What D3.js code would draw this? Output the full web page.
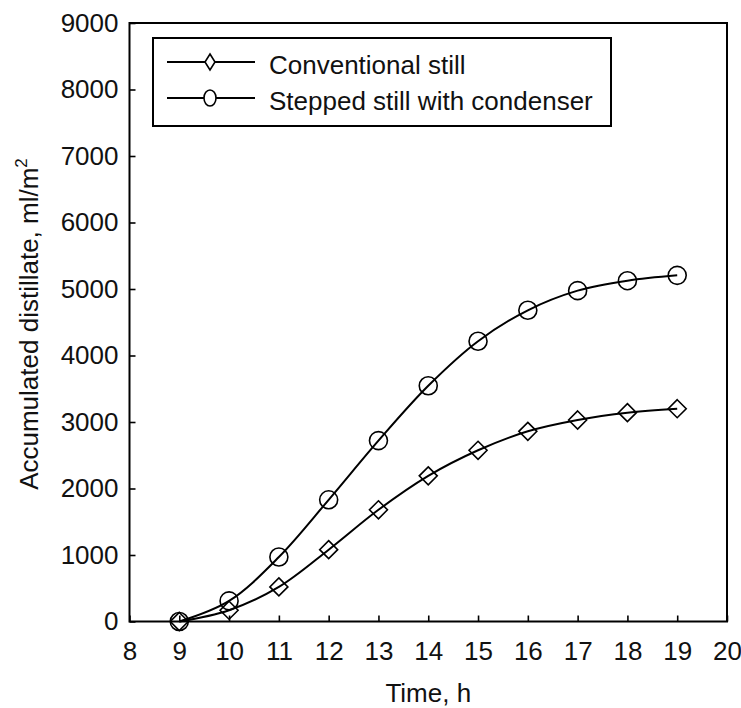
<!DOCTYPE html>
<html>
<head>
<meta charset="utf-8">
<script src="https://cdn.jsdelivr.net/npm/d3@7"></script>
<style>
  html, body { margin: 0; padding: 0; background: #fff; }
  svg { display: block; font-family: "Liberation Sans", Arial, Helvetica, sans-serif; }
</style>
</head>
<body>
<svg id="chart" width="741" height="708"></svg>
<script>
// Hourly readings of accumulated distillate (ml/m²)
const hours = [9, 10, 11, 12, 13, 14, 15, 16, 17, 18, 19];
const conventional = [0, 170, 520, 1080, 1680, 2190, 2575, 2860, 3030, 3140, 3200];
const stepped = [0, 310, 970, 1830, 2720, 3545, 4215, 4680, 4975, 5125, 5205];
const xTicks = [8, 9, 10, 11, 12, 13, 14, 15, 16, 17, 18, 19, 20];
const yTicks = [0, 1000, 2000, 3000, 4000, 5000, 6000, 7000, 8000, 9000];
const seriesNames = ["Conventional still", "Stepped still with condenser"];

const svg = d3.select("#chart");
const plotL = 129.5, plotR = 727, plotT = 23, plotB = 621.5;

const x = d3.scaleLinear().domain([8, 20]).range([plotL, plotR]);
const y = d3.scaleLinear().domain([0, 9000]).range([plotB, plotT]);

// Axes with inward ticks
const xAxis = d3.axisBottom(x).tickValues(xTicks).tickFormat(d3.format("d"))
  .tickSizeInner(-6).tickSizeOuter(0).tickPadding(20);
const yAxis = d3.axisLeft(y).tickValues(yTicks).tickFormat(d3.format("d"))
  .tickSizeInner(-6).tickSizeOuter(0).tickPadding(11);

const gx = svg.append("g").attr("transform", `translate(0,${plotB})`).call(xAxis);
const gy = svg.append("g").attr("transform", `translate(${plotL},0)`).call(yAxis);
[gx, gy].forEach(g => {
  g.select(".domain").remove();
  g.selectAll("line").attr("stroke", "#000").attr("stroke-width", 1.6);
  g.selectAll("text").attr("fill", "#111").style("font-size", "26px")
    .attr("font-family", "'Liberation Sans', Arial, sans-serif");
});

// Plot frame
svg.append("rect")
  .attr("x", plotL).attr("y", plotT)
  .attr("width", plotR - plotL).attr("height", plotB - plotT)
  .attr("fill", "none").attr("stroke", "#000").attr("stroke-width", 2);

// Axis titles
svg.append("text")
  .attr("x", (plotL + plotR) / 2).attr("y", 702)
  .attr("text-anchor", "middle")
  .style("font-size", "26px").attr("fill", "#111")
  .text("Time, h");

const yTitle = svg.append("text")
  .attr("transform", `translate(38,324) rotate(-90)`)
  .attr("text-anchor", "middle")
  .style("font-size", "26px").attr("fill", "#111");
yTitle.append("tspan").text("Accumulated distillate, ml/m");
yTitle.append("tspan").attr("dy", -11).style("font-size", "17px").text("2");

// Curves
const line = d3.line().curve(d3.curveCatmullRom.alpha(0.5))
  .x(d => x(d[0])).y(d => y(d[1]));

const convPts = hours.map((h, i) => [h, conventional[i]]);
const stepPts = hours.map((h, i) => [h, stepped[i]]);

[convPts, stepPts].forEach(pts => {
  svg.append("path").datum(pts).attr("d", line)
    .attr("fill", "none").attr("stroke", "#000").attr("stroke-width", 2);
});

const diamond = (cx, cy, hw, hh) =>
  `M${cx},${cy - hh}L${cx + hw},${cy}L${cx},${cy + hh}L${cx - hw},${cy}Z`;

svg.append("g").selectAll("path").data(convPts).join("path")
  .attr("d", d => diamond(x(d[0]), y(d[1]), 9, 9))
  .attr("fill", "none").attr("stroke", "#000").attr("stroke-width", 1.6);

svg.append("g").selectAll("circle").data(stepPts).join("circle")
  .attr("cx", d => x(d[0])).attr("cy", d => y(d[1])).attr("r", 9)
  .attr("fill", "none").attr("stroke", "#000").attr("stroke-width", 1.6);

// Legend
const lg = svg.append("g");
lg.append("rect").attr("x", 153).attr("y", 38).attr("width", 458).attr("height", 88)
  .attr("fill", "#fff").attr("stroke", "#000").attr("stroke-width", 2);
const rows = [62, 98];
rows.forEach((ry, i) => {
  lg.append("line").attr("x1", 167).attr("x2", 255).attr("y1", ry).attr("y2", ry)
    .attr("stroke", "#000").attr("stroke-width", 2);
  if (i === 0) {
    lg.append("path").attr("d", diamond(210, ry, 5, 8))
      .attr("fill", "#fff").attr("stroke", "#000").attr("stroke-width", 1.6);
  } else {
    lg.append("ellipse").attr("cx", 210).attr("cy", ry).attr("rx", 6).attr("ry", 8)
      .attr("fill", "#fff").attr("stroke", "#000").attr("stroke-width", 1.6);
  }
  lg.append("text").attr("x", 269).attr("y", ry + 12)
    .style("font-size", "26px").attr("fill", "#111").text(seriesNames[i]);
});
</script>
</body>
</html>
